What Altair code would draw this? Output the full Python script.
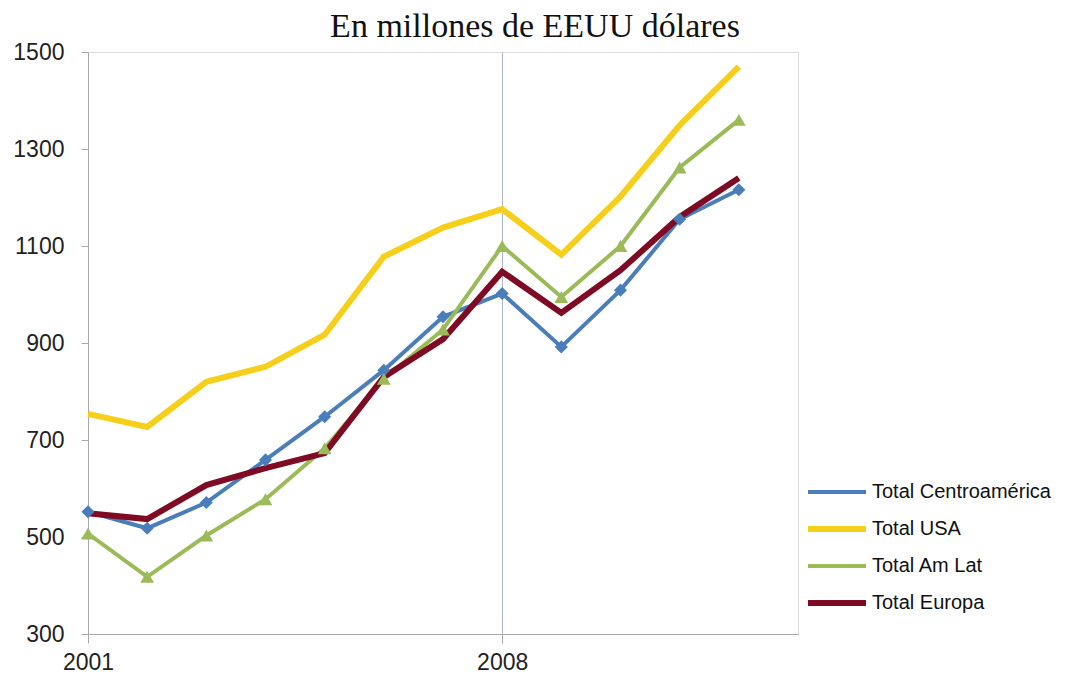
import altair as alt
import pandas as pd

years = list(range(2001, 2013))
centroamerica = [552, 518, 571, 659, 748, 844, 954, 1002, 892, 1009, 1155, 1216]
usa = [754, 727, 820, 851, 917, 1078, 1138, 1176, 1082, 1202, 1349, 1470]
amlat = [507, 418, 503, 578, 683, 826, 928, 1100, 995, 1100, 1262, 1360]
europa = [549, 537, 607, 642, 673, 830, 908, 1047, 962, 1050, 1160, 1240]

series = ["Total Centroamérica", "Total USA", "Total Am Lat", "Total Europa"]
colors = ["#4A7EBB", "#F6CF1A", "#9BBB59", "#7F0A24"]
widths = [4, 6, 4, 6]

rows = []
for name, vals in zip(series, [centroamerica, usa, amlat, europa]):
    for y, v in zip(years, vals):
        rows.append({"Year": y, "Value": v, "Series": name})
df = pd.DataFrame(rows)

color_scale = alt.Scale(domain=series, range=colors)
legend = alt.Legend(
    title=None,
    orient="none",
    legendX=717,
    legendY=430,
    symbolType="stroke",
    symbolSize=3364,
    symbolStrokeWidth=5,
    clipHeight=20,
    rowPadding=17,
    labelFont="Liberation Sans",
    labelFontSize=20,
    labelColor="#111",
    labelOffset=3,
    labelLimit=400,
)

x_enc = alt.X(
    "Year:Q",
    scale=alt.Scale(domain=[2001, 2013], nice=False, zero=False),
    axis=alt.Axis(
        values=[2001, 2008],
        format="d",
        title=None,
        grid=True,
        gridColor="#A9B4C6",
        gridWidth=1,
        domainColor="#A8A8A8",
        tickColor="#A8A8A8",
        tickSize=9,
        labelPadding=8,
        labelFont="Liberation Sans",
        labelFontSize=23,
        labelColor="#222",
        labelFlush=False,
    ),
)
y_enc = alt.Y(
    "Value:Q",
    scale=alt.Scale(domain=[300, 1500], nice=False, zero=False),
    axis=alt.Axis(
        values=[300, 500, 700, 900, 1100, 1300, 1500],
        format="d",
        title=None,
        grid=False,
        domainColor="#A8A8A8",
        tickColor="#A8A8A8",
        tickSize=7,
        labelPadding=17,
        labelFont="Liberation Sans",
        labelFontSize=23,
        labelColor="#222",
    ),
)

lines = alt.Chart(df).mark_line().encode(
    x=x_enc,
    y=y_enc,
    color=alt.Color("Series:N", scale=color_scale, legend=legend, sort=series),
    strokeWidth=alt.StrokeWidth(
        "Series:N",
        scale=alt.Scale(type="ordinal", domain=series, range=widths),
        legend=None,
    ),
    order=alt.Order("Year:Q"),
)

pts_centro = alt.Chart(df).transform_filter(
    alt.datum.Series == "Total Centroamérica"
).mark_point(filled=True, size=170, opacity=1, shape="diamond", color=colors[0]).encode(
    x=alt.X("Year:Q"),
    y=alt.Y("Value:Q"),
)

pts_amlat = alt.Chart(df).transform_filter(
    alt.datum.Series == "Total Am Lat"
).mark_point(filled=True, size=190, opacity=1, shape="triangle-up", color=colors[2]).encode(
    x=alt.X("Year:Q"),
    y=alt.Y("Value:Q"),
)

chart = alt.layer(lines, pts_centro, pts_amlat).properties(
    width=710,
    height=582,
    autosize=alt.AutoSizeParams(type="none"),
    padding={"left": 80, "top": 44, "right": 270, "bottom": 48},
    title=alt.TitleParams(
        "En millones de EEUU dólares",
        font="Liberation Serif",
        fontSize=34,
        fontWeight="normal",
        color="#111",
        anchor="middle",
        dx=92,
        offset=-3,
    ),
).configure_view(stroke="#B0B0B0", strokeWidth=1.2).configure(background="white")

chart.save("out.html", embed_options={"renderer": "svg", "actions": False})
